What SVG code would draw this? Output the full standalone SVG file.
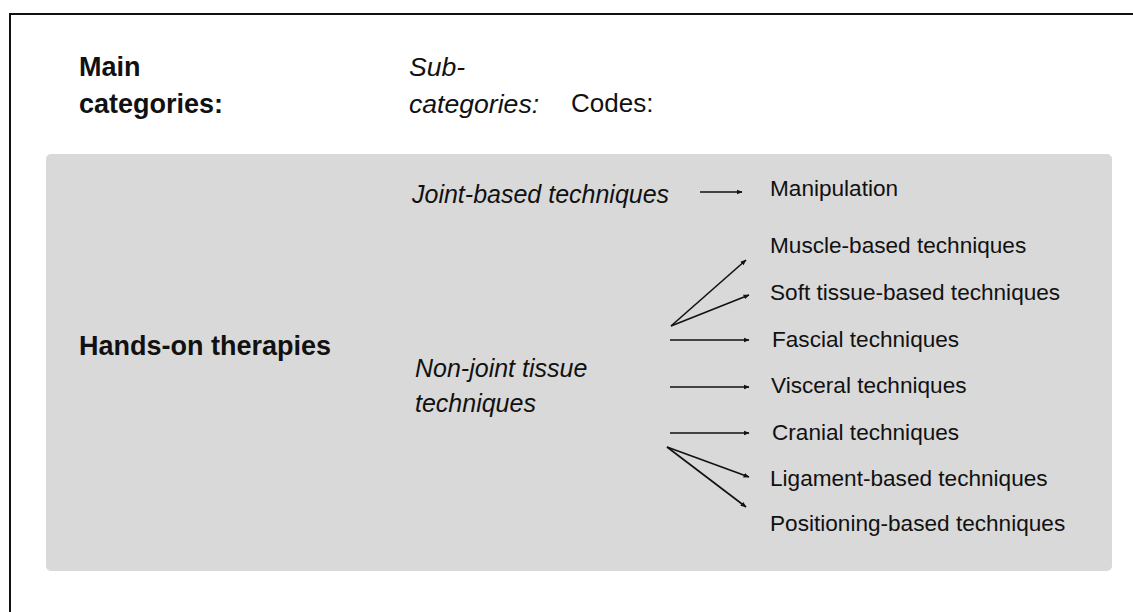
<svg xmlns="http://www.w3.org/2000/svg" width="1133" height="612" viewBox="0 0 1133 612">
  <style>
    .head { font-family: "Liberation Sans", Arial, sans-serif; font-size: 26px; fill: #111; }
    .bold { font-weight: bold; font-size: 27px; }
    .ital { font-style: italic; font-size: 25px; }
    .ital.top { font-size: 26.6px; }
    .code { font-family: "Liberation Sans", Arial, sans-serif; font-size: 22.6px; fill: #111; }
    .arrow { stroke: #111; stroke-width: 1.6; fill: none; marker-end: url(#tip); }
  </style>
  <defs>
    <marker id="tip" viewBox="0 0 10 10" refX="9" refY="5" markerWidth="6" markerHeight="6" orient="auto" markerUnits="userSpaceOnUse">
      <path d="M0,1 L10,5 L0,9 Z" fill="#111"/>
    </marker>
  </defs>

  <rect x="0" y="0" width="1133" height="612" fill="#fff"/>
  <!-- outer frame (top and left edges) -->
  <path d="M10,612 V14 H1133" fill="none" stroke="#111" stroke-width="2"/>

  <!-- column headings -->
  <g id="heading-main">
    <text class="head bold" x="79" y="76">Main</text>
    <text class="head bold" x="79" y="113">categories:</text>
  </g>
  <g id="heading-sub">
    <text class="head ital top" x="409" y="76">Sub-</text>
    <text class="head ital top" x="409" y="113">categories:</text>
  </g>
  <g id="heading-codes">
    <text class="head" x="571" y="112">Codes:</text>
  </g>

  <!-- shaded panel -->
  <rect id="panel" x="46" y="154" width="1066" height="417" rx="5" fill="#d9d9d9"/>

  <g id="main-hands-on">
    <text class="head bold" x="79" y="355">Hands-on therapies</text>
  </g>
  <g id="sub-joint">
    <text class="head ital" x="412" y="203">Joint-based techniques</text>
  </g>
  <g id="sub-nonjoint">
    <text class="head ital" x="415" y="377">Non-joint tissue</text>
    <text class="head ital" x="415" y="412">techniques</text>
  </g>

  <g id="code-manipulation"><text class="code" x="770" y="196">Manipulation</text></g>
  <g id="code-muscle"><text class="code" x="770" y="253">Muscle-based techniques</text></g>
  <g id="code-soft"><text class="code" x="770" y="300">Soft tissue-based techniques</text></g>
  <g id="code-fascial"><text class="code" x="772" y="347">Fascial techniques</text></g>
  <g id="code-visceral"><text class="code" x="771" y="393">Visceral techniques</text></g>
  <g id="code-cranial"><text class="code" x="772" y="440">Cranial techniques</text></g>
  <g id="code-ligament"><text class="code" x="770" y="486">Ligament-based techniques</text></g>
  <g id="code-positioning"><text class="code" x="770" y="531">Positioning-based techniques</text></g>

  <g id="connectors">
    <line class="arrow" x1="700" y1="192" x2="742" y2="192"/>
    <line class="arrow" x1="671" y1="326" x2="746" y2="260"/>
    <line class="arrow" x1="671" y1="326" x2="749" y2="295"/>
    <line class="arrow" x1="670" y1="340" x2="749" y2="340"/>
    <line class="arrow" x1="670" y1="387" x2="749" y2="387"/>
    <line class="arrow" x1="670" y1="433" x2="749" y2="433"/>
    <line class="arrow" x1="667" y1="447" x2="749" y2="477"/>
    <line class="arrow" x1="667" y1="447" x2="746" y2="507"/>
  </g>
</svg>
